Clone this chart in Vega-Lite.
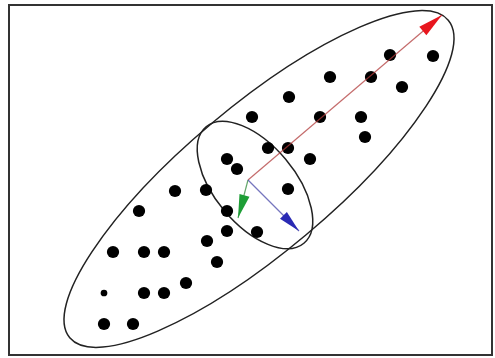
{
  "$schema": "https://vega.github.io/schema/vega-lite/v6.json",
  "width": 483,
  "height": 350,
  "autosize": {"type": "none"},
  "padding": {"left": 9, "top": 5, "right": 3, "bottom": 3},
  "background": "white",
  "config": {"view": {"stroke": "#333333", "strokeWidth": 2}},
  "resolve": {"scale": {"color": "independent", "size": "independent", "angle": "independent"}},
  "layer": [
    {
      "data": {"values": [{"x": 250, "y": 176}]},
      "mark": {"type": "point", "shape": "M -0.757 0.635 A 0.988 0.292 -40 1 0 0.757 -0.635 A 0.988 0.292 -40 1 0 -0.757 0.635 Z", "size": 250000, "filled": false, "stroke": "#222222", "strokeWidth": 1.5, "opacity": 1},
      "encoding": {
        "x": {"field": "x", "type": "quantitative", "scale": {"domain": [0, 483], "nice": false, "zero": false}, "axis": null},
        "y": {"field": "y", "type": "quantitative", "scale": {"domain": [0, 350], "nice": false, "zero": false}, "axis": null}
      }
    },
    {
      "data": {"values": [{"x": 246, "y": 170}]},
      "mark": {"type": "point", "shape": "M -0.611 -0.728 A 0.95 0.5 50 1 0 0.611 0.728 A 0.95 0.5 50 1 0 -0.611 -0.728 Z", "size": 25600, "filled": false, "stroke": "#222222", "strokeWidth": 1.5, "opacity": 1},
      "encoding": {
        "x": {"field": "x", "type": "quantitative", "scale": {"domain": [0, 483], "nice": false, "zero": false}, "axis": null},
        "y": {"field": "y", "type": "quantitative", "scale": {"domain": [0, 350], "nice": false, "zero": false}, "axis": null}
      }
    },
    {
      "data": {"values": [
        {"x": 424, "y": 299, "kind": "normal"},
        {"x": 381, "y": 300, "kind": "normal"},
        {"x": 362, "y": 278, "kind": "normal"},
        {"x": 321, "y": 278, "kind": "normal"},
        {"x": 393, "y": 268, "kind": "normal"},
        {"x": 280, "y": 258, "kind": "normal"},
        {"x": 243, "y": 238, "kind": "normal"},
        {"x": 311, "y": 238, "kind": "normal"},
        {"x": 352, "y": 238, "kind": "normal"},
        {"x": 356, "y": 218, "kind": "normal"},
        {"x": 259, "y": 207, "kind": "normal"},
        {"x": 279, "y": 207, "kind": "normal"},
        {"x": 301, "y": 196, "kind": "normal"},
        {"x": 218, "y": 196, "kind": "normal"},
        {"x": 228, "y": 186, "kind": "normal"},
        {"x": 166, "y": 164, "kind": "normal"},
        {"x": 197, "y": 165, "kind": "normal"},
        {"x": 279, "y": 166, "kind": "normal"},
        {"x": 130, "y": 144, "kind": "normal"},
        {"x": 218, "y": 144, "kind": "normal"},
        {"x": 218, "y": 124, "kind": "normal"},
        {"x": 248, "y": 123, "kind": "normal"},
        {"x": 198, "y": 114, "kind": "normal"},
        {"x": 104, "y": 103, "kind": "normal"},
        {"x": 135, "y": 103, "kind": "normal"},
        {"x": 155, "y": 103, "kind": "normal"},
        {"x": 208, "y": 93, "kind": "normal"},
        {"x": 177, "y": 72, "kind": "normal"},
        {"x": 95, "y": 62, "kind": "small"},
        {"x": 135, "y": 62, "kind": "normal"},
        {"x": 155, "y": 62, "kind": "normal"},
        {"x": 95, "y": 31, "kind": "normal"},
        {"x": 124, "y": 31, "kind": "normal"}
      ]},
      "mark": {"type": "circle", "color": "#000000", "opacity": 1},
      "encoding": {
        "x": {"field": "x", "type": "quantitative", "scale": {"domain": [0, 483], "nice": false, "zero": false}, "axis": null},
        "y": {"field": "y", "type": "quantitative", "scale": {"domain": [0, 350], "nice": false, "zero": false}, "axis": null},
        "size": {"field": "kind", "type": "nominal", "scale": {"domain": ["normal", "small"], "range": [150, 45]}, "legend": null}
      }
    },
    {
      "data": {"values": [
        {"series": "red", "x": 239, "y": 175, "x2": 433, "y2": 340, "dir": 50},
        {"series": "green", "x": 239, "y": 175, "x2": 229, "y2": 137, "dir": 196},
        {"series": "blue", "x": 239, "y": 175, "x2": 290, "y2": 124, "dir": 135}
      ]},
      "layer": [
        {
          "mark": {"type": "rule", "strokeWidth": 1.2, "opacity": 0.75},
          "encoding": {
            "x": {"field": "x", "type": "quantitative", "scale": {"domain": [0, 483], "nice": false, "zero": false}, "axis": null},
            "y": {"field": "y", "type": "quantitative", "scale": {"domain": [0, 350], "nice": false, "zero": false}, "axis": null},
            "x2": {"field": "x2"},
            "y2": {"field": "y2"},
            "color": {"field": "series", "type": "nominal", "scale": {"domain": ["red", "green", "blue"], "range": ["#b03a3a", "#2f8a3a", "#4848a8"]}, "legend": null}
          }
        },
        {
          "mark": {"type": "point", "shape": "M 0 0 L 0.22 1 L -0.22 1 Z", "filled": true, "opacity": 1},
          "encoding": {
            "x": {"field": "x2", "type": "quantitative", "scale": {"domain": [0, 483], "nice": false, "zero": false}, "axis": null},
            "y": {"field": "y2", "type": "quantitative", "scale": {"domain": [0, 350], "nice": false, "zero": false}, "axis": null},
            "angle": {"field": "dir", "type": "quantitative", "scale": null},
            "size": {"field": "series", "type": "nominal", "scale": {"domain": ["red", "green", "blue"], "range": [2500, 1936, 1000]}, "legend": null},
            "fill": {"field": "series", "type": "nominal", "scale": {"domain": ["red", "green", "blue"], "range": ["#e8161e", "#1e9e36", "#2a2ab4"]}, "legend": null}
          }
        }
      ],
      "resolve": {"scale": {"color": "independent", "size": "independent", "fill": "independent"}}
    }
  ]
}
